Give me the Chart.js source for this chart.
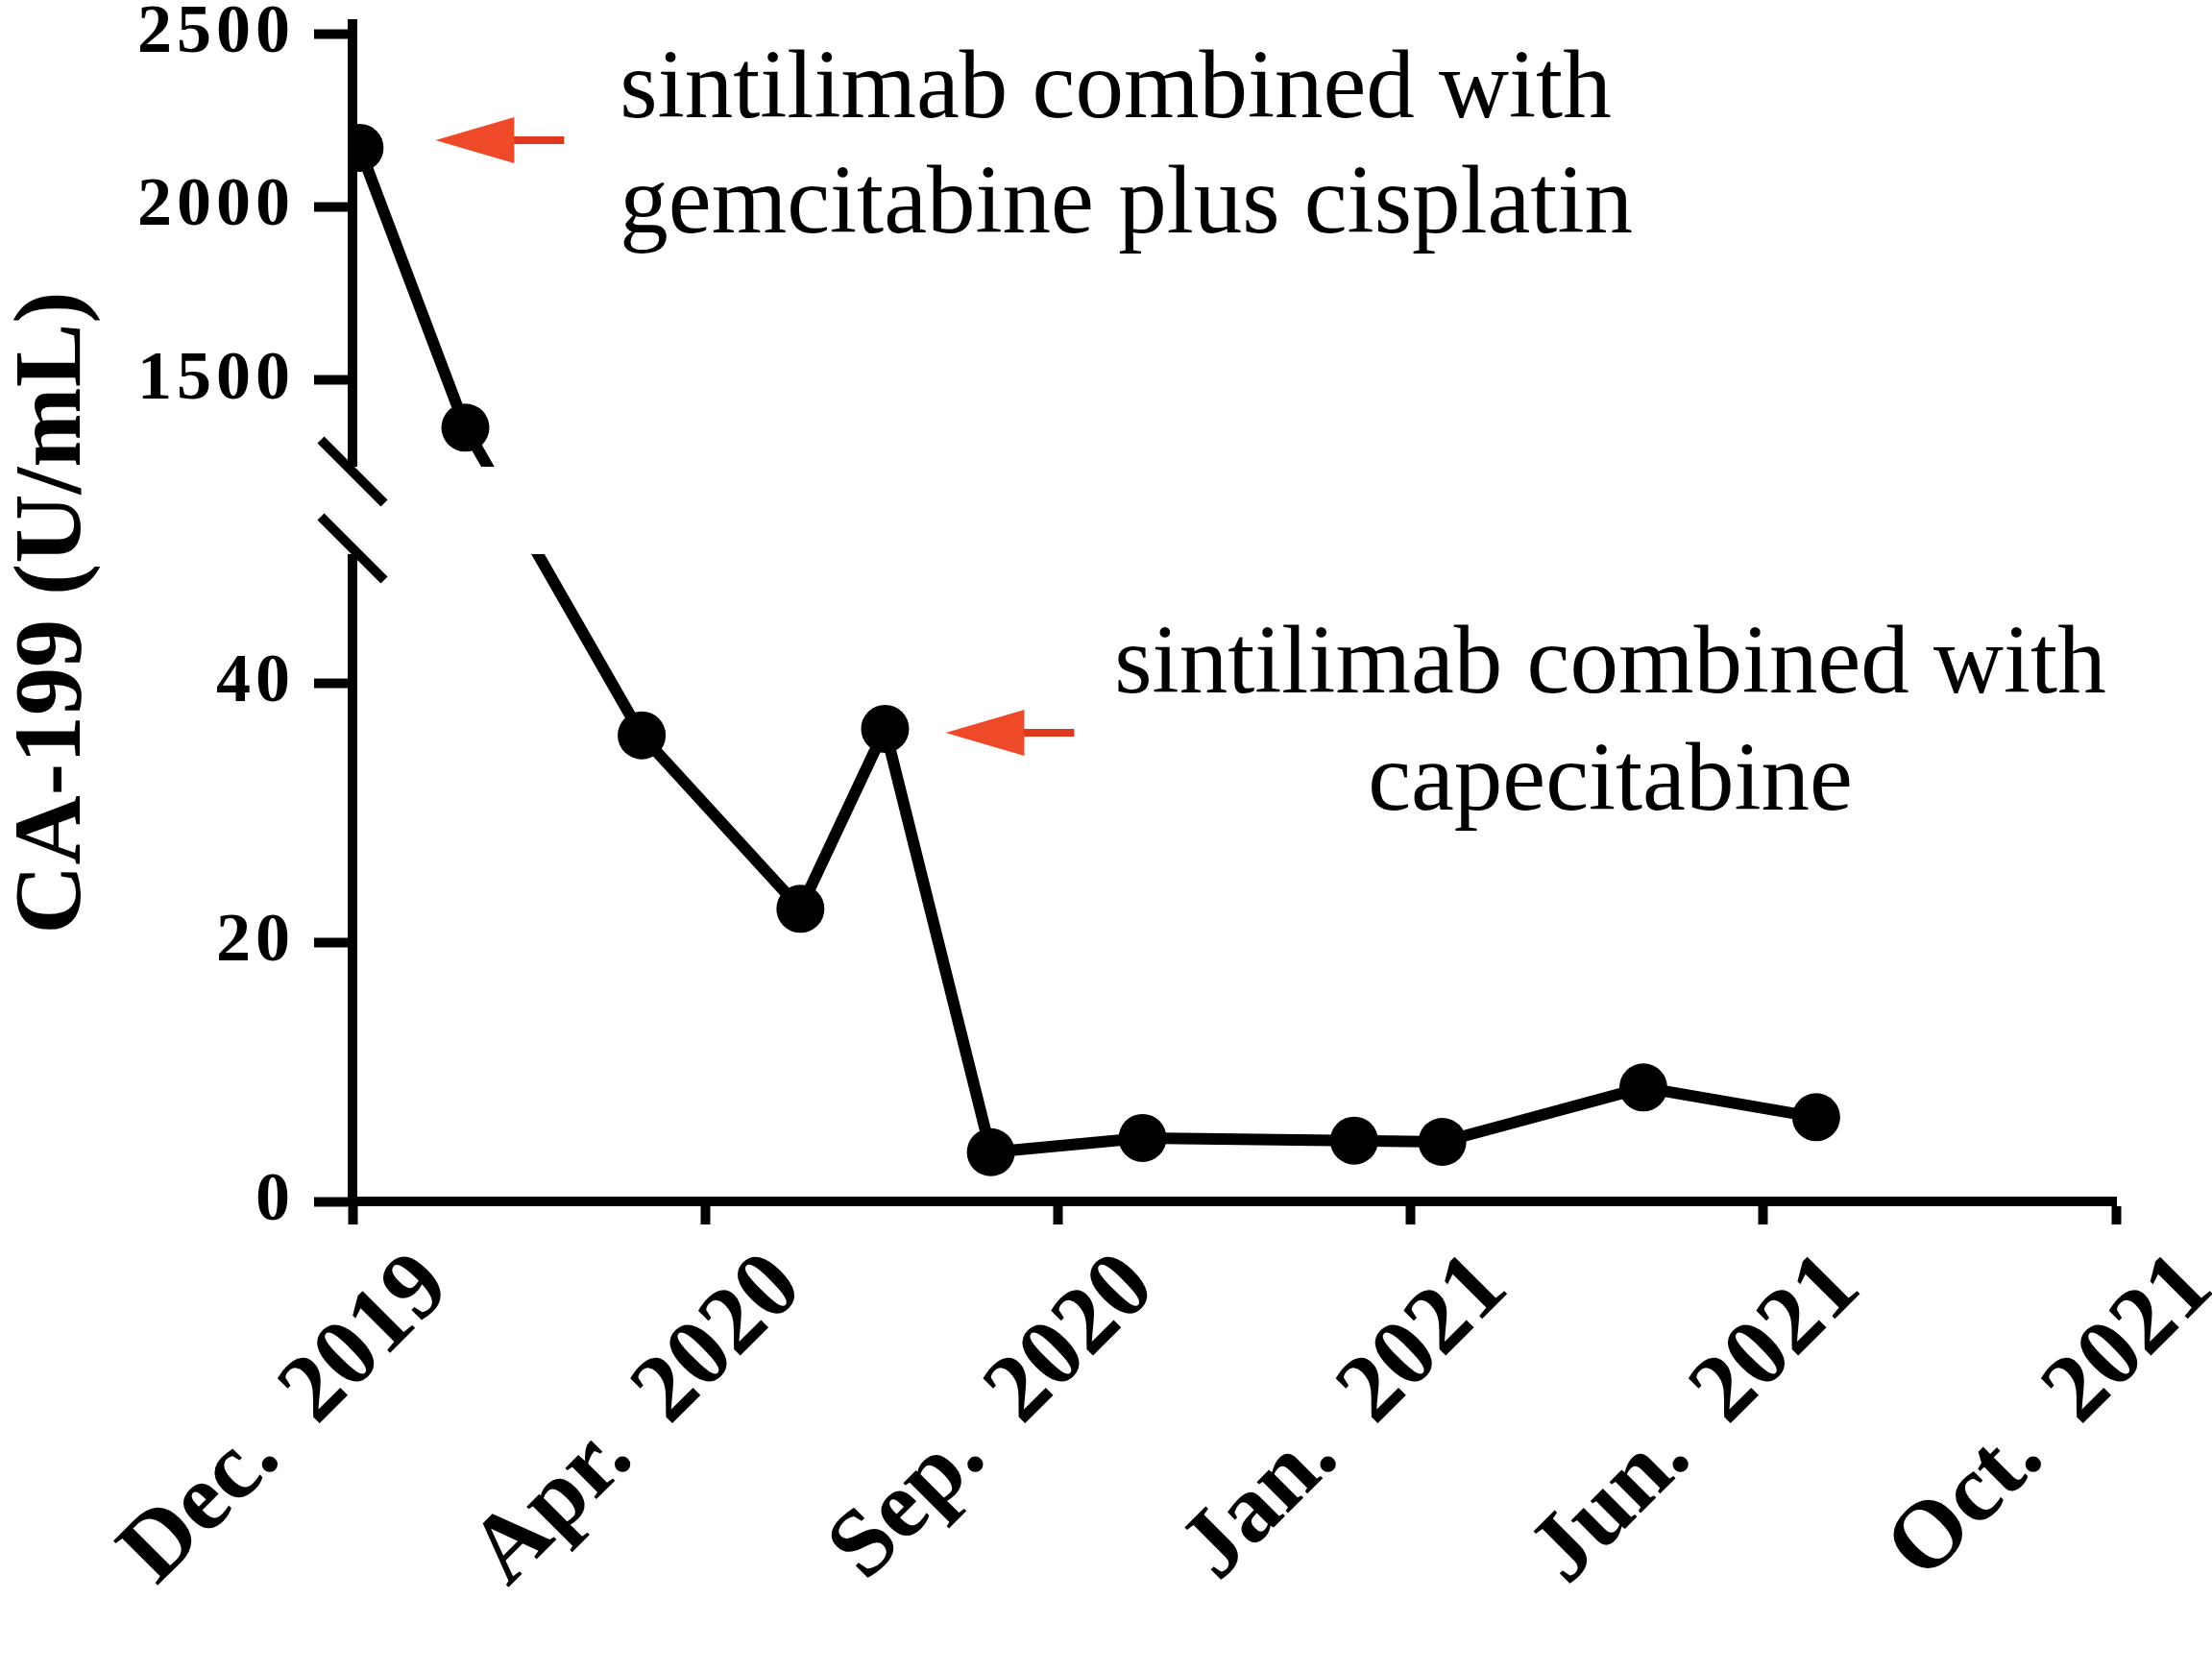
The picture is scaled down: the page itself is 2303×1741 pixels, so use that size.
<!DOCTYPE html>
<html>
<head>
<meta charset="utf-8">
<script src="https://cdn.jsdelivr.net/npm/chart.js@4.4.1/dist/chart.umd.min.js"></script>
<style>
  html, body { margin: 0; padding: 0; background: #ffffff; }
  #wrap { width: 2303px; height: 1741px; position: relative; }
</style>
</head>
<body>
<div id="wrap"><canvas id="chart"></canvas></div>
<script>
// ---- data ----
const xTickLabels = ['Dec.  2019', 'Apr.  2020', 'Sep.  2020', 'Jan.  2021', 'Jun.  2021', 'Oct.  2021'];
const xPositions  = [0.02, 0.32, 0.82, 1.27, 1.51, 1.81, 2.24, 2.84, 3.09, 3.66, 4.15];
const ca199Values = [2172, 1363, 36.0, 22.6, 36.5, 3.8, 4.9, 4.7, 4.6, 8.8, 6.5];
const yTickValues = [0, 20, 40, 1500, 2000, 2500];
const lowerRange  = [0, 50];
const upperRange  = [1250, 2530];
const note1Lines  = ['sintilimab combined with', 'gemcitabine plus cisplatin'];
const note2Lines  = ['sintilimab combined with', 'capecitabine'];
const note1Index  = 0;
const note2Index  = 4;

// ---- broken (two-segment) linear scale ----
const LOW_FRAC = 0.5498;   // share of axis height for the lower segment
const UP_FRAC  = 0.376;    // share of axis height for the upper segment

class BrokenLinearScale extends Chart.LinearScale {
  _segs() {
    const H = this.bottom - this.top;
    return { lowTop: this.bottom - H * LOW_FRAC, upBot: this.top + H * UP_FRAC };
  }
  getPixelForValue(v) {
    const { lowTop, upBot } = this._segs();
    const [l0, l1] = lowerRange, [u0, u1] = upperRange;
    if (v <= l1) return this.bottom - (v - l0) / (l1 - l0) * (this.bottom - lowTop);
    if (v >= u0) return upBot - (v - u0) / (u1 - u0) * (upBot - this.top);
    const t = (v - l1) / (u0 - l1);
    return lowTop - t * (lowTop - upBot);
  }
  getValueForPixel(p) {
    const { lowTop, upBot } = this._segs();
    const [l0, l1] = lowerRange, [u0, u1] = upperRange;
    if (p >= lowTop) return l0 + (this.bottom - p) / (this.bottom - lowTop) * (l1 - l0);
    if (p <= upBot) return u0 + (upBot - p) / (upBot - this.top) * (u1 - u0);
    const t = (lowTop - p) / (lowTop - upBot);
    return l1 + t * (u0 - l1);
  }
  drawLabels(area) {
    const ctx = this.ctx;
    ctx.save();
    ctx.letterSpacing = '5px';
    super.drawLabels(area);
    ctx.restore();
  }
}
BrokenLinearScale.id = 'brokenLinear';
BrokenLinearScale.defaults = Chart.LinearScale.defaults;
Chart.register(BrokenLinearScale);

// ---- plugins: axis break and annotations ----
const breakPlugin = {
  id: 'axisBreak',
  afterDatasetsDraw(chart) {
    const ctx = chart.ctx, ys = chart.scales.y, area = chart.chartArea;
    const pUp = ys.getPixelForValue(upperRange[0]);
    const pLow = ys.getPixelForValue(lowerRange[1]);
    const x0 = area.left;
    ctx.save();
    ctx.fillStyle = '#ffffff';
    ctx.fillRect(x0 - 8, pUp, area.right - x0 + 8, pLow - pUp);
    ctx.strokeStyle = '#000000';
    ctx.lineWidth = 10;
    ctx.lineCap = 'butt';
    [[pUp, 5], [pLow, -6]].forEach(([py, off]) => {
      ctx.beginPath();
      ctx.moveTo(x0 - 33, py + off - 33);
      ctx.lineTo(x0 + 33, py + off + 33);
      ctx.stroke();
    });
    ctx.restore();
  }
};

function drawArrow(ctx, tx, ty) {
  ctx.save();
  ctx.fillStyle = '#EE4A2A';
  ctx.strokeStyle = '#E0381F';
  ctx.lineWidth = 8;
  ctx.beginPath();
  ctx.moveTo(tx + 70, ty);
  ctx.lineTo(tx + 134, ty);
  ctx.stroke();
  ctx.beginPath();
  ctx.moveTo(tx, ty);
  ctx.lineTo(tx + 82, ty - 24);
  ctx.lineTo(tx + 82, ty + 24);
  ctx.closePath();
  ctx.fill();
  ctx.restore();
}

const notesPlugin = {
  id: 'notes',
  afterDraw(chart) {
    const ctx = chart.ctx;
    const pts = chart.getDatasetMeta(0).data;
    const a = pts[note1Index], b = pts[note2Index];
    drawArrow(ctx, a.x + 79, a.y - 8);
    drawArrow(ctx, b.x + 63, b.y + 4);
    ctx.save();
    ctx.fillStyle = '#000000';
    ctx.font = '101px "Liberation Serif", "Times New Roman", serif';
    ctx.textBaseline = 'alphabetic';
    ctx.textAlign = 'left';
    ctx.fillText(note1Lines[0], a.x + 271, a.y - 32);
    ctx.fillText(note1Lines[1], a.x + 271, a.y + 88);
    ctx.textAlign = 'center';
    ctx.fillText(note2Lines[0], b.x + 755, b.y - 38);
    ctx.fillText(note2Lines[1], b.x + 755, b.y + 84);
    ctx.restore();
  }
};

// ---- chart ----
const points = xPositions.map((x, i) => ({ x: x, y: ca199Values[i] }));
const serif = '"Liberation Serif", "Times New Roman", serif';

new Chart(document.getElementById('chart'), {
  type: 'line',
  data: {
    datasets: [{
      data: points,
      borderColor: '#000000',
      borderWidth: 12,
      backgroundColor: '#000000',
      pointRadius: 25,
      pointBackgroundColor: '#000000',
      pointBorderWidth: 0,
      tension: 0,
      fill: false
    }]
  },
  options: {
    responsive: true,
    maintainAspectRatio: false,
    devicePixelRatio: 1,
    animation: false,
    layout: { padding: { top: 16, right: 100, bottom: 0, left: 0 } },
    plugins: { legend: { display: false }, tooltip: { enabled: false } },
    scales: {
      x: {
        type: 'linear',
        min: 0,
        max: 5,
        ticks: {
          stepSize: 1,
          autoSkip: false,
          minRotation: 45,
          maxRotation: 45,
          padding: 8,
          labelOffset: 86,
          color: '#000000',
          font: { family: serif, weight: 'bold', size: 100 },
          callback: v => xTickLabels[Math.round(v)]
        },
        grid: { display: true, drawOnChartArea: false, drawTicks: true, tickLength: 24, tickWidth: 10, color: '#000000' },
        border: { display: true, width: 10, color: '#000000' },
        afterFit: s => { s.height = 490; s.paddingLeft = 0; s.paddingRight = 0; }
      },
      y: {
        type: 'brokenLinear',
        min: 0,
        max: upperRange[1],
        afterBuildTicks: s => { s.ticks = yTickValues.map(v => ({ value: v })); },
        ticks: {
          autoSkip: false,
          padding: 20,
          color: '#000000',
          font: { family: serif, weight: 'bold', size: 72 },
          callback: v => String(v)
        },
        grid: { display: true, drawOnChartArea: false, drawTicks: true, tickLength: 40, tickWidth: 10, color: '#000000' },
        border: { display: true, width: 10, color: '#000000' },
        title: {
          display: true,
          text: 'CA-199 (U/mL)',
          color: '#000000',
          padding: 0,
          font: { family: serif, weight: 'bold', size: 100, lineHeight: 1.15 }
        },
        afterFit: s => { s.width = 367; s.paddingTop = 0; s.paddingBottom = 0; }
      }
    }
  },
  plugins: [breakPlugin, notesPlugin]
});
</script>
</body>
</html>
